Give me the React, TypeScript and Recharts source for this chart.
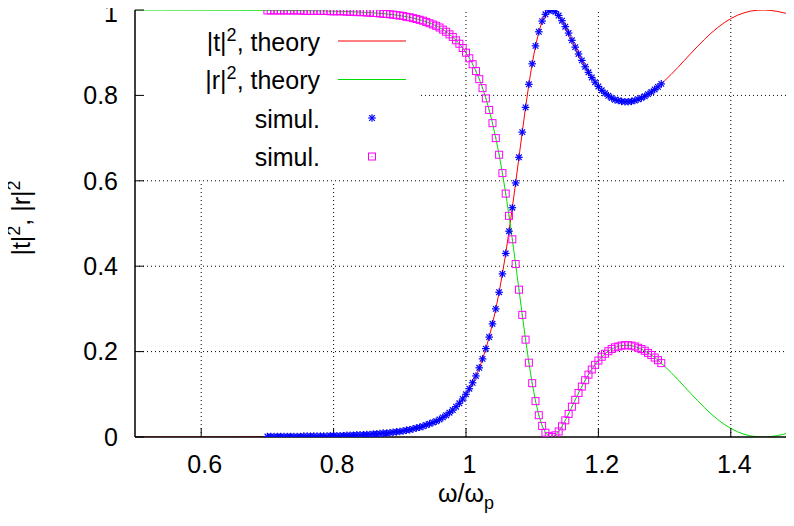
import React from 'react';
import { ComposedChart, Line, XAxis, YAxis, ReferenceLine, Legend, Label } from 'recharts';

// omega / omega_p grid of the theory curves
const omega = [
  0.5, 0.51, 0.52, 0.53, 0.54, 0.55, 0.56, 0.57, 0.58, 0.59,
  0.6, 0.61, 0.62, 0.63, 0.64, 0.65, 0.66, 0.67, 0.68, 0.69,
  0.7, 0.705, 0.71, 0.715, 0.72, 0.725, 0.73, 0.735, 0.74, 0.745,
  0.75, 0.755, 0.76, 0.765, 0.77, 0.775, 0.78, 0.785, 0.79, 0.795,
  0.8, 0.805, 0.81, 0.815, 0.82, 0.825, 0.83, 0.835, 0.84, 0.845,
  0.85, 0.855, 0.86, 0.865, 0.87, 0.875, 0.88, 0.885, 0.89, 0.895,
  0.9, 0.905, 0.91, 0.915, 0.92, 0.925, 0.93, 0.935, 0.94, 0.945,
  0.95, 0.955, 0.96, 0.965, 0.97, 0.975, 0.98, 0.985, 0.99, 0.995,
  1, 1.005, 1.01, 1.015, 1.02, 1.025, 1.03, 1.035, 1.04, 1.045,
  1.05, 1.055, 1.06, 1.065, 1.07, 1.075, 1.08, 1.085, 1.09, 1.095,
  1.1, 1.105, 1.11, 1.115, 1.12, 1.125, 1.13, 1.135, 1.14, 1.145,
  1.15, 1.155, 1.16, 1.165, 1.17, 1.175, 1.18, 1.185, 1.19, 1.195,
  1.2, 1.205, 1.21, 1.215, 1.22, 1.225, 1.23, 1.235, 1.24, 1.245,
  1.25, 1.255, 1.26, 1.265, 1.27, 1.275, 1.28, 1.285, 1.29, 1.295,
  1.3,
  1.31, 1.32, 1.33, 1.34, 1.35, 1.36, 1.37, 1.38, 1.39, 1.4,
  1.41, 1.42, 1.43, 1.44, 1.45, 1.46, 1.47, 1.48, 1.49, 1.5,
];

// |t|^2, theory
const theoryT = [
  0.0001, 0.0001, 0.0001, 0.0001, 0.0001, 0.0002, 0.0002, 0.0002, 0.0002, 0.0002,
  0.0003, 0.0003, 0.0003, 0.0004, 0.0004, 0.0004, 0.0005, 0.0006, 0.0006, 0.0007,
  0.0008, 0.0008, 0.0009, 0.0009, 0.001, 0.001, 0.0011, 0.0012, 0.0012, 0.0013,
  0.0014, 0.0015, 0.0016, 0.0017, 0.0018, 0.002, 0.0021, 0.0022, 0.0024, 0.0026,
  0.0027, 0.003, 0.0032, 0.0034, 0.0037, 0.0039, 0.0042, 0.0046, 0.0049, 0.0053,
  0.0057, 0.0062, 0.0067, 0.0073, 0.0079, 0.0086, 0.0093, 0.0102, 0.0111, 0.012,
  0.0131, 0.0144, 0.0157, 0.0172, 0.0189, 0.0207, 0.0228, 0.025, 0.0276, 0.0305,
  0.0337, 0.0373, 0.0413, 0.0459, 0.051, 0.0569, 0.0634, 0.0709, 0.0794, 0.089,
  0.1, 0.1125, 0.1267, 0.1429, 0.1615, 0.1827, 0.2067, 0.234, 0.2649, 0.2997,
  0.3387, 0.382, 0.4298, 0.4816, 0.5371, 0.5951, 0.6549, 0.7144, 0.7722, 0.826,
  0.8744, 0.9157, 0.9488, 0.9735, 0.9897, 0.9982, 0.9998, 0.9958, 0.9872, 0.9753,
  0.9611, 0.9456, 0.9293, 0.913, 0.8969, 0.8816, 0.8672, 0.8538, 0.8416, 0.8308,
  0.8209, 0.8123, 0.8051, 0.7991, 0.7941, 0.7904, 0.7876, 0.7858, 0.7851, 0.7853,
  0.7862, 0.7881, 0.7908, 0.7942, 0.7982, 0.8029, 0.8081, 0.8139, 0.8202, 0.8269,
  0.8341,
  0.8493, 0.8654, 0.8821, 0.8988, 0.9151, 0.9308, 0.9455, 0.9587, 0.9702, 0.9799,
  0.9876, 0.9935, 0.9974, 0.9995, 1.0, 0.999, 0.9968, 0.9935, 0.9896, 0.9852,
];

// |r|^2, theory
const theoryR = [
  0.9999, 0.9999, 0.9999, 0.9999, 0.9999, 0.9998, 0.9998, 0.9998, 0.9998, 0.9998,
  0.9997, 0.9997, 0.9997, 0.9996, 0.9996, 0.9996, 0.9995, 0.9994, 0.9994, 0.9993,
  0.9992, 0.9992, 0.9991, 0.9991, 0.999, 0.999, 0.9989, 0.9988, 0.9988, 0.9987,
  0.9986, 0.9985, 0.9984, 0.9983, 0.9982, 0.998, 0.9979, 0.9978, 0.9976, 0.9974,
  0.9973, 0.997, 0.9968, 0.9966, 0.9963, 0.9961, 0.9958, 0.9954, 0.9951, 0.9947,
  0.9943, 0.9938, 0.9933, 0.9927, 0.9921, 0.9914, 0.9907, 0.9898, 0.9889, 0.988,
  0.9869, 0.9856, 0.9843, 0.9828, 0.9811, 0.9793, 0.9772, 0.975, 0.9724, 0.9695,
  0.9663, 0.9627, 0.9587, 0.9541, 0.949, 0.9431, 0.9366, 0.9291, 0.9206, 0.911,
  0.9, 0.8875, 0.8733, 0.8571, 0.8385, 0.8173, 0.7933, 0.766, 0.7351, 0.7003,
  0.6613, 0.618, 0.5702, 0.5184, 0.4629, 0.4049, 0.3451, 0.2856, 0.2278, 0.174,
  0.1256, 0.0843, 0.0512, 0.0265, 0.0103, 0.0018, 0.0002, 0.0042, 0.0128, 0.0247,
  0.0389, 0.0544, 0.0707, 0.087, 0.1031, 0.1184, 0.1328, 0.1462, 0.1584, 0.1692,
  0.1791, 0.1877, 0.1949, 0.2009, 0.2059, 0.2096, 0.2124, 0.2142, 0.2149, 0.2147,
  0.2138, 0.2119, 0.2092, 0.2058, 0.2018, 0.1971, 0.1919, 0.1861, 0.1798, 0.1731,
  0.1659,
  0.1507, 0.1346, 0.1179, 0.1012, 0.0849, 0.0692, 0.0545, 0.0413, 0.0298, 0.0201,
  0.0124, 0.0065, 0.0026, 0.0005, 0.0, 0.001, 0.0032, 0.0065, 0.0104, 0.0148,
];

// simulation points, omega = 0.700 ... 1.295 (omega[20] onwards)
const SIM_START = 20;
const simT = [
  0.001, 0.001, 0.001, 0.001, 0.001, 0.001, 0.001, 0.001, 0.001, 0.001,
  0.001, 0.002, 0.002, 0.002, 0.002, 0.002, 0.002, 0.002, 0.002, 0.003,
  0.003, 0.003, 0.003, 0.003, 0.004, 0.004, 0.004, 0.005, 0.005, 0.005,
  0.006, 0.006, 0.007, 0.007, 0.008, 0.009, 0.009, 0.01, 0.011, 0.012,
  0.013, 0.014, 0.016, 0.017, 0.019, 0.021, 0.023, 0.025, 0.028, 0.031,
  0.034, 0.037, 0.041, 0.046, 0.051, 0.057, 0.063, 0.071, 0.079, 0.089,
  0.1, 0.113, 0.127, 0.143, 0.162, 0.183, 0.207, 0.234, 0.265, 0.3,
  0.339, 0.382, 0.43, 0.482, 0.537, 0.595, 0.655, 0.714, 0.772, 0.826,
  0.874, 0.916, 0.949, 0.974, 0.99, 0.998, 1.0, 0.996, 0.987, 0.975,
  0.961, 0.946, 0.929, 0.913, 0.897, 0.882, 0.867, 0.854, 0.842, 0.831,
  0.821, 0.812, 0.805, 0.799, 0.794, 0.79, 0.788, 0.786, 0.785, 0.785,
  0.786, 0.788, 0.791, 0.794, 0.798, 0.803, 0.808, 0.814, 0.82, 0.827,
];
const simR = [
  0.999, 0.999, 0.999, 0.999, 0.999, 0.999, 0.999, 0.999, 0.999, 0.999,
  0.999, 0.998, 0.998, 0.998, 0.998, 0.998, 0.998, 0.998, 0.998, 0.997,
  0.997, 0.997, 0.997, 0.997, 0.996, 0.996, 0.996, 0.995, 0.995, 0.995,
  0.994, 0.994, 0.993, 0.993, 0.992, 0.991, 0.991, 0.99, 0.989, 0.988,
  0.987, 0.986, 0.984, 0.983, 0.981, 0.979, 0.977, 0.975, 0.972, 0.969,
  0.966, 0.963, 0.959, 0.954, 0.949, 0.943, 0.937, 0.929, 0.921, 0.911,
  0.9, 0.887, 0.873, 0.857, 0.838, 0.817, 0.793, 0.766, 0.735, 0.7,
  0.661, 0.618, 0.57, 0.518, 0.463, 0.405, 0.345, 0.286, 0.228, 0.174,
  0.126, 0.084, 0.051, 0.026, 0.01, 0.002, 0.0, 0.004, 0.013, 0.025,
  0.039, 0.054, 0.071, 0.087, 0.103, 0.118, 0.133, 0.146, 0.158, 0.169,
  0.179, 0.188, 0.195, 0.201, 0.206, 0.21, 0.212, 0.214, 0.215, 0.215,
  0.214, 0.212, 0.209, 0.206, 0.202, 0.197, 0.192, 0.186, 0.18, 0.173,
];

const xTicks = [0.6, 0.8, 1, 1.2, 1.4];
const yTicks = [0, 0.2, 0.4, 0.6, 0.8, 1];
const xMinorTicks = [
  0.52, 0.54, 0.56, 0.58, 0.62, 0.64, 0.66, 0.68, 0.72, 0.74, 0.76, 0.78,
  0.82, 0.84, 0.86, 0.88, 0.92, 0.94, 0.96, 0.98, 1.02, 1.04, 1.06, 1.08,
  1.12, 1.14, 1.16, 1.18, 1.22, 1.24, 1.26, 1.28, 1.32, 1.34, 1.36, 1.38,
  1.42, 1.44, 1.46, 1.48,
];
const yMinorTicks = [0.1, 0.3, 0.5, 0.7, 0.9];

const theoryRows = omega.map((w, i) => ({ w, t: theoryT[i], r: theoryR[i] }));
const simRows = simT.map((v, i) => ({ w: omega[SIM_START + i], st: v, sr: simR[i] }));

const FONT = '"Liberation Sans", Arial, Helvetica, sans-serif';
const RED = '#ff0000';
const GREEN = '#00e000';
const BLUE = '#0000ff';
const MAGENTA = '#ff00ff';

const noTick = () => <g />;

const starMark = (cx: number, cy: number, key?: string) => (
  <g key={key} stroke={BLUE} strokeWidth={1.2}>
    <line x1={cx - 3.8} y1={cy} x2={cx + 3.8} y2={cy} />
    <line x1={cx} y1={cy - 3.8} x2={cx} y2={cy + 3.8} />
    <line x1={cx - 2.8} y1={cy - 2.8} x2={cx + 2.8} y2={cy + 2.8} />
    <line x1={cx - 2.8} y1={cy + 2.8} x2={cx + 2.8} y2={cy - 2.8} />
  </g>
);

const squareMark = (cx: number, cy: number, key?: string) => (
  <g key={key}>
    <rect x={cx - 3.5} y={cy - 3.5} width={7} height={7} fill="none" stroke={MAGENTA} strokeWidth={1} />
    <rect x={cx - 0.5} y={cy - 0.5} width={1} height={1} fill={MAGENTA} />
  </g>
);

const StarDot = (props: any) => {
  const { cx, cy, index } = props;
  if (cx == null || cy == null) return <g key={`st-${index}`} />;
  return starMark(cx, cy, `st-${index}`);
};

const SquareDot = (props: any) => {
  const { cx, cy, index } = props;
  if (cx == null || cy == null) return <g key={`sr-${index}`} />;
  return squareMark(cx, cy, `sr-${index}`);
};

// y tick labels; the top one sits a little lower so it stays on the page
const YTick = (props: any) => {
  const { x, y, payload } = props;
  const shift = payload.value === 1 ? 3 : 0;
  return (
    <text x={x} y={y + shift} dy="0.355em" textAnchor="end" fontSize={25} fontFamily={FONT} fill="#000">
      {payload.value}
    </text>
  );
};

const legendRows = [
  { base: '|t|', sup: '2', rest: ', theory', kind: 'line', color: RED },
  { base: '|r|', sup: '2', rest: ', theory', kind: 'line', color: GREEN },
  { base: 'simul.', sup: '', rest: '', kind: 'star', color: BLUE },
  { base: 'simul.', sup: '', rest: '', kind: 'square', color: MAGENTA },
];

const renderLegend = () => (
  <svg width={440} height={190} style={{ display: 'block', overflow: 'visible' }}>
    {legendRows.map((row, i) => {
      const cy = 41 + i * 38.5;
      return (
        <g key={i}>
          <text x={320} y={cy + 9.5} textAnchor="end" fontSize={25} fontFamily={FONT} fill="#000">
            {row.base}
            {row.sup && (
              <tspan dy={-10} fontSize={18}>
                {row.sup}
              </tspan>
            )}
            {row.rest && <tspan dy={10}>{row.rest}</tspan>}
          </text>
          {row.kind === 'line' && (
            <line x1={338} y1={cy} x2={406} y2={cy} stroke={row.color} strokeWidth={1} />
          )}
          {row.kind === 'star' && starMark(372, cy)}
          {row.kind === 'square' && squareMark(372, cy)}
        </g>
      );
    })}
  </svg>
);

const XTitle = () => (
  <text x={466} y={502} textAnchor="middle" fontSize={25} fontFamily={FONT} fill="#000">
    ω/ω
    <tspan dy={7} fontSize={18}>
      p
    </tspan>
  </text>
);

const YTitle = () => (
  <text transform="translate(30,218) rotate(-90)" textAnchor="middle" fontSize={25} fontFamily={FONT} fill="#000">
    |t|
    <tspan dy={-10} fontSize={18}>
      2
    </tspan>
    <tspan dy={10}>, |r|</tspan>
    <tspan dy={-10} fontSize={18}>
      2
    </tspan>
  </text>
);

// dotted grid, kept clear of the key box in the upper left
const verticalGrid = [
  { x: 0.6, top: 0.6 },
  { x: 0.8, top: 0.6 },
  { x: 1, top: 1 },
  { x: 1.2, top: 1 },
  { x: 1.4, top: 1 },
];
const horizontalGrid = [
  { y: 0.2, from: 0.5 },
  { y: 0.4, from: 0.5 },
  { y: 0.6, from: 0.5 },
  { y: 0.8, from: 0.932 },
];

const App: React.FC = () => {
  const axisStroke = { stroke: '#000', strokeWidth: 1.5 };
  const tickLine = { stroke: '#000', strokeWidth: 1 };
  const tickFont = { fontSize: 25, fill: '#000', fontFamily: FONT };
  const xDomain: [number, number] = [0.5, 1.5];
  const yDomain: [number, number] = [0, 1];

  return (
    <div style={{ margin: -8, width: 794, height: 526, overflow: 'hidden', background: '#fff' }}>
      <ComposedChart width={800} height={526} margin={{ top: 10, right: 3, bottom: 49, left: 75 }}>
        {/* minor ticks first so the zero-height axes sit on the frame */}
        <XAxis xAxisId="minB" type="number" dataKey="w" domain={xDomain} allowDataOverflow ticks={xMinorTicks}
          interval={0} height={0} tickSize={-4.5} tickLine={tickLine} axisLine={false} tick={noTick} />
        <XAxis xAxisId="x" type="number" dataKey="w" domain={xDomain} allowDataOverflow ticks={xTicks}
          interval={0} height={40} tickSize={-9} tickMargin={27} tickLine={tickLine} axisLine={axisStroke}
          tick={{ ...tickFont, dx: 3.5 }}>
          <Label content={XTitle} />
        </XAxis>
        <XAxis xAxisId="minT" orientation="top" type="number" dataKey="w" domain={xDomain} allowDataOverflow
          ticks={xMinorTicks} interval={0} height={0} tickSize={-4.5} tickLine={tickLine} axisLine={false} tick={noTick} />
        <XAxis xAxisId="top" orientation="top" type="number" dataKey="w" domain={xDomain} allowDataOverflow
          ticks={xTicks} interval={0} height={0} tickSize={-9} tickLine={tickLine} axisLine={axisStroke} tick={noTick} />

        <YAxis yAxisId="minL" type="number" domain={yDomain} allowDataOverflow ticks={yMinorTicks} interval={0}
          width={0} tickSize={-4.5} tickLine={tickLine} axisLine={false} tick={noTick} />
        <YAxis yAxisId="y" type="number" domain={yDomain} allowDataOverflow ticks={yTicks} interval={0}
          width={60} tickSize={-9} tickMargin={26} tickLine={tickLine} axisLine={axisStroke} tick={YTick}>
          <Label content={YTitle} />
        </YAxis>
        <YAxis yAxisId="minR" orientation="right" type="number" domain={yDomain} allowDataOverflow ticks={yMinorTicks}
          interval={0} width={0} tickSize={-4.5} tickLine={tickLine} axisLine={false} tick={noTick} />
        <YAxis yAxisId="right" orientation="right" type="number" domain={yDomain} allowDataOverflow ticks={yTicks}
          interval={0} width={0} tickSize={-9} tickLine={tickLine} axisLine={axisStroke} tick={noTick} />

        {verticalGrid.map((g) => (
          <ReferenceLine key={`vx-${g.x}`} xAxisId="x" yAxisId="y"
            segment={[{ x: g.x, y: 0 }, { x: g.x, y: g.top }]}
            stroke="#000" strokeWidth={1} strokeDasharray="1 3" />
        ))}
        {horizontalGrid.map((g) => (
          <ReferenceLine key={`hy-${g.y}`} xAxisId="x" yAxisId="y"
            segment={[{ x: g.from, y: g.y }, { x: 1.5, y: g.y }]}
            stroke="#000" strokeWidth={1} strokeDasharray="1 3" />
        ))}

        <Line xAxisId="x" yAxisId="y" data={theoryRows} dataKey="t" type="linear" stroke={RED} strokeWidth={1}
          dot={false} activeDot={false} isAnimationActive={false} />
        <Line xAxisId="x" yAxisId="y" data={theoryRows} dataKey="r" type="linear" stroke={GREEN} strokeWidth={1}
          dot={false} activeDot={false} isAnimationActive={false} />
        <Line xAxisId="x" yAxisId="y" data={simRows} dataKey="st" stroke="none" dot={StarDot}
          activeDot={false} isAnimationActive={false} />
        <Line xAxisId="x" yAxisId="y" data={simRows} dataKey="sr" stroke="none" dot={SquareDot}
          activeDot={false} isAnimationActive={false} />

        <Legend layout="vertical" align="center" verticalAlign="middle" content={renderLegend}
          wrapperStyle={{ position: 'absolute', left: 0, top: 0, width: 440, height: 190, pointerEvents: 'none' }} />
      </ComposedChart>
    </div>
  );
};

export default App;
